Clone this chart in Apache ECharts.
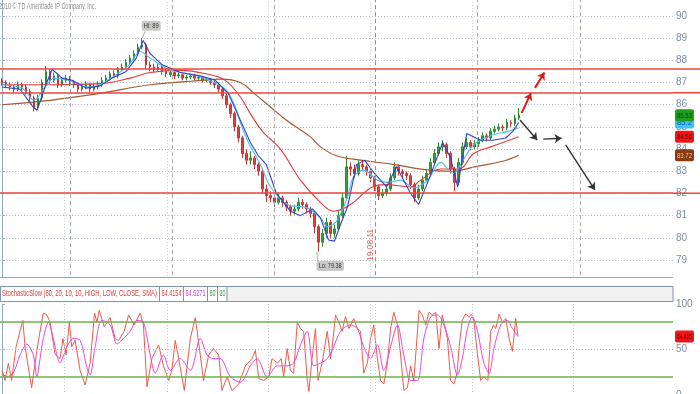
<!DOCTYPE html>
<html><head><meta charset="utf-8">
<script src="https://cdn.jsdelivr.net/npm/echarts@6/dist/echarts.min.js"></script>
<style>html,body{margin:0;padding:0;background:#fff}#c{width:700px;height:394px}</style>
</head><body><div id="c"></div>
<script>
// ---------- DATA ----------
const SLOTS = 168; // time slots on the x axis (data + future space)
// [open, close, low, high]
const candles = [
[87.1,87.0,86.85,87.2],[87.0,86.9,86.75,87.1],[86.9,86.8,86.65,87.0],[86.8,86.7,86.55,86.9],
[86.7,86.9,86.6,87.05],[86.9,86.8,86.65,87.0],[86.8,86.6,86.45,86.9],[86.6,86.3,86.15,86.7],
[86.3,85.9,85.7,86.4],[85.9,86.3,85.8,86.45],[86.3,87.0,86.2,87.15],[87.0,87.5,86.9,87.75],
[87.5,87.1,86.95,87.6],[87.1,87.3,87.0,87.45],[87.3,86.9,86.75,87.4],[86.9,87.1,86.8,87.25],
[87.1,87.2,87.0,87.35],[87.2,87.0,86.85,87.3],[87.0,86.9,86.75,87.1],[86.9,86.7,86.55,87.0],
[86.7,86.8,86.6,86.95],[86.8,86.9,86.7,87.05],[86.9,86.7,86.55,87.0],[86.7,86.8,86.6,86.95],
[86.8,86.9,86.7,87.05],[86.9,87.1,86.8,87.25],[87.1,87.2,87.0,87.35],[87.2,87.4,87.1,87.5],
[87.4,87.3,87.2,87.55],[87.3,87.6,87.2,87.7],[87.6,87.7,87.5,87.85],[87.7,87.9,87.6,88.05],
[87.9,88.1,87.8,88.25],[88.1,88.3,88.0,88.45],[88.3,88.6,88.2,88.75],[88.6,88.7,88.5,89.0],
[88.7,87.8,87.6,88.8],[87.8,87.7,87.5,87.95],[87.7,87.6,87.45,87.85],[87.6,87.7,87.5,87.85],
[87.7,87.5,87.35,87.8],[87.5,87.4,87.25,87.6],[87.35,87.45,87.25,87.55],[87.45,87.3,87.15,87.5],
[87.3,87.35,87.2,87.45],[87.35,87.2,87.1,87.4],[87.2,87.25,87.1,87.35],[87.25,87.3,87.15,87.4],
[87.3,87.2,87.1,87.4],[87.2,87.25,87.1,87.35],[87.25,87.1,87.0,87.3],[87.1,87.15,87.0,87.25],
[87.15,87.0,86.9,87.2],[87.0,86.9,86.75,87.1],[86.9,86.7,86.55,87.0],[86.7,86.4,86.25,86.8],
[86.4,86.0,85.85,86.5],[86.0,85.6,85.4,86.1],[85.6,85.0,84.8,85.7],[85.0,84.5,84.3,85.1],
[84.5,83.8,83.6,84.6],[83.8,83.5,83.3,84.0],[83.5,83.6,83.3,83.9],[83.6,83.3,83.1,83.7],
[83.3,83.0,82.8,83.4],[83.0,82.2,82.0,83.1],[82.2,81.9,81.6,82.4],[81.9,81.8,81.6,82.1],
[81.8,81.6,81.4,81.9],[81.6,81.8,81.5,82.0],[81.8,81.6,81.4,81.9],[81.6,81.4,81.2,81.7],
[81.4,81.2,81.0,81.5],[81.2,81.3,81.05,81.5],[81.3,81.6,81.2,81.8],[81.6,81.5,81.3,81.75],
[81.5,81.3,81.1,81.6],[81.3,81.1,80.9,81.4],[81.1,80.5,80.2,81.2],[80.5,79.8,79.38,80.6],
[79.8,80.2,79.6,80.4],[80.2,80.7,80.0,80.9],[80.7,80.2,80.0,80.8],[80.2,80.4,80.0,80.6],
[80.4,81.0,80.3,81.2],[81.0,81.8,80.9,82.0],[81.8,83.2,81.7,83.7],[83.2,83.1,82.8,83.4],
[83.1,82.9,82.7,83.3],[82.9,83.3,82.8,83.5],[83.3,83.2,83.0,83.5],[83.2,83.0,82.8,83.3],
[83.0,82.7,82.5,83.1],[82.7,82.3,82.1,82.8],[82.3,81.9,81.7,82.4],[81.9,82.0,81.8,82.2],
[82.0,82.2,81.9,82.4],[82.2,82.7,82.1,82.9],[82.7,83.2,82.6,83.4],[83.2,83.0,82.8,83.3],
[83.0,82.9,82.7,83.1],[82.9,82.8,82.6,83.0],[82.8,82.4,82.2,82.9],[82.4,81.8,81.6,82.5],
[81.8,82.2,81.7,82.4],[82.2,82.6,82.1,82.8],[82.6,82.9,82.5,83.1],[82.9,83.4,82.8,83.6],
[83.4,83.8,83.3,84.0],[83.8,84.1,83.7,84.3],[84.1,84.2,83.9,84.4],[84.2,83.8,83.6,84.3],
[83.8,83.1,82.9,83.9],[83.1,82.5,82.1,83.2],[82.5,83.4,82.4,83.6],[83.4,84.1,83.3,84.3],
[84.1,84.3,84.0,84.5],[84.3,84.1,83.95,84.4],[84.1,84.25,84.0,84.4],[84.25,84.4,84.1,84.55],
[84.4,84.6,84.3,84.75],[84.6,84.5,84.35,84.7],[84.5,84.8,84.4,84.95],[84.8,84.9,84.7,85.05],
[84.9,85.0,84.8,85.15],[85.0,84.95,84.8,85.1],[84.95,85.2,84.85,85.35],[85.2,85.15,85.0,85.3],
[85.15,85.4,85.05,85.55],[85.4,85.53,85.3,85.85]
];
// moving averages: [slot, value]
const blueMA = [[0,86.8],[4.5,86.7],[7.75,85.9],[8.75,85.75],[10.75,86.8],[12.5,87.6],[15,87.2],[17.5,87.1],[21,86.75],[24.5,86.85],[27.5,87.2],[31,87.5],[33.5,88.1],[35.25,88.9],[37,88.3],[40,87.8],[44.5,87.45],[49.5,87.3],[53.25,87.1],[56.5,86.5],[59.5,85.3],[62,84.3],[64,83.7],[66,83.3],[68.5,82.0],[72,81.2],[74.5,81.0],[77.5,81.3],[79.5,80.9],[81.5,79.9],[83,79.85],[84.5,80.6],[86.25,81.4],[88.5,83.3],[90.5,83.5],[93,82.9],[96,82.3],[98.5,83.2],[102,82.0],[104,81.5],[106.5,82.6],[110,84.3],[112,83.6],[113.75,82.3],[116,84.7],[119.5,84.4],[122.5,84.4],[125.75,84.5],[127.5,84.8],[129,85.2]];
const cyanMA = [[0,86.9],[5,86.75],[8,86.2],[10.75,86.8],[13,87.2],[17.5,87.05],[21,86.8],[24.5,86.9],[28,87.3],[31.5,87.75],[34.5,88.4],[37,88.1],[41.5,87.6],[49.5,87.25],[55.75,86.7],[58.25,85.9],[59.5,85.2],[61.5,84.3],[64.5,83.3],[67,82.3],[71.25,81.5],[76.25,81.35],[79.5,80.9],[81.25,80.5],[83.75,80.8],[86.25,81.85],[87.75,82.75],[90.25,83.05],[93.75,82.6],[96.25,82.5],[99.5,82.6],[102.75,82.25],[106.25,82.6],[109.5,83.4],[112.75,82.9],[113.75,83.1],[117.75,84.2],[122,84.6],[126.25,84.8],[129,84.95]];
const redMA = [[0,86.9],[12,86.9],[24.5,86.95],[32,87.2],[37,87.45],[44.5,87.55],[52,87.35],[55.75,87.1],[59.5,86.35],[62,85.6],[65,84.8],[69.5,84.0],[74.5,82.6],[79.5,81.6],[82.75,81.2],[87,81.5],[92,82.25],[95.75,82.4],[102,82.3],[104.5,82.6],[109.5,83.1],[114,83.1],[117.75,83.8],[122,84.1],[129,84.56]];
const brownMA = [[0,86.0],[12,86.2],[24,86.5],[37,86.9],[50,87.1],[54.5,87.15],[59.5,87.0],[63,86.5],[67,85.9],[71,85.3],[77,84.55],[79.5,84.1],[83.5,83.7],[89.5,83.5],[98,83.3],[104.5,83.1],[112.5,83.0],[118,83.2],[125,83.45],[129,83.72]];
// stochastic slow: [slot, value]
const stochK = [[0,27],[0.75,16],[1.6,35],[2.4,16],[3.5,53],[5.2,82],[5.75,53],[7.4,8],[8.25,35],[9.1,60],[10.3,90],[11.2,88],[12,80],[13.25,45],[14.5,40],[15.2,62],[16,44],[16.8,80],[17.4,53],[18.25,60],[19.5,27],[20.75,11],[22,35],[23.1,90],[23.7,80],[24.25,93],[25.5,75],[27,85],[28.25,62],[29.1,60],[30.5,70],[31.6,88],[33,77],[34.5,90],[35.3,77],[36.2,9],[37.4,40],[39.1,55],[40.3,32],[41.6,16],[42.4,27],[43.25,60],[44.1,40],[45.5,5],[47,62],[48.25,85],[49.5,44],[50.3,16],[51.6,44],[52.8,51],[54.1,44],[54.9,5],[56.2,20],[57.4,5],[59.1,12],[60.75,32],[62.4,40],[63.25,49],[64.1,18],[65.3,16],[66.6,20],[67.4,40],[68.8,35],[69.7,40],[70.3,20],[71.2,51],[72,27],[72.8,24],[73.7,80],[74.5,73],[75.3,70],[76.2,16],[76.6,4],[77.4,40],[78.25,73],[78.9,16],[79.9,35],[81.2,70],[82,40],[82.4,51],[83.25,88],[84.1,80],[84.9,70],[85.75,86],[86.6,73],[87.8,84],[88.7,73],[89.5,70],[90.3,24],[91.2,35],[92,62],[92.8,77],[93.7,40],[94.5,16],[95.3,12],[96.2,35],[97,73],[97.8,91],[98.7,77],[99.5,44],[100.3,5],[101.2,8],[102,32],[102.8,16],[104.1,93],[104.9,88],[105.75,77],[106.6,91],[107.4,88],[108.25,91],[109.1,51],[109.9,88],[111.2,62],[112,16],[112.8,12],[113.6,24],[114.1,53],[114.9,82],[115.75,89],[116.6,86],[117.2,89],[117.8,82],[118.7,44],[119.5,16],[120.2,20],[120.75,18],[121.3,16],[122,70],[122.7,77],[123.25,73],[124.1,89],[124.9,80],[125.75,84],[126.6,62],[127.4,48],[128.25,84],[128.8,64.4154]];
const stochD = [[0,24],[1.2,20],[2.8,24],[4.5,44],[6.2,56],[7.8,44],[8.7,20],[9.5,40],[10.3,62],[11.6,80],[12.8,62],[14.5,35],[16.2,53],[17.8,62],[19.5,60],[21.2,30],[22,22],[23.25,53],[24.9,82],[27,77],[28.7,56],[30.3,62],[32,70],[33.7,82],[35.3,80],[37,44],[38.25,24],[40.3,44],[42,27],[44.5,40],[47,27],[49.5,62],[51.2,44],[52.8,40],[54.5,40],[57,20],[59.5,14],[62,32],[63.7,40],[66.2,20],[68.7,32],[71.2,32],[72.8,35],[74.5,55],[76.2,70],[77.8,32],[79.5,35],[81.2,40],[82.8,53],[84.5,70],[87,77],[88.7,73],[90.3,53],[92,40],[93.7,55],[95.3,27],[97,53],[98.7,77],[100.3,44],[102,16],[103.7,16],[105.3,62],[107,86],[108.7,88],[110.3,77],[112,53],[113.7,22],[114.9,40],[116.2,73],[117.4,86],[118.7,70],[120.3,35],[121.6,24],[122.8,51],[124.5,77],[126.2,82],[127.4,73],[128.8,64.6271]];
const stochParams = 'StochasticSlow (80, 20, 10, 10, HIGH, LOW, CLOSE, SMA)';
const stochLevels = [80, 20];
// support / resistance levels
const levels = [87.61, 86.54, 82.01];
// period separators (slot positions)
const gridDotted = [15.6, 41.2, 66.5, 91.9, 117.3, 142.7];
const gridDashed = [17.0, 42.4, 67.9, 118.6, 144.3];
const dateLine = 93.1, dateLabel = '19.08.11';
const hiPoint = [35, 89.0], loPoint = [79, 79.38];
// scenario arrows [[slot,value],[slot,value]]
const arrowsRed = [[[129.7,85.62],[132.05,86.52]], [[133.05,86.76],[135.4,87.45]]];
const arrowsBlack = [[[129.3,85.31],[133.6,84.41]], [[135.1,84.45],[139.7,84.49]], [[140.7,84.19],[148.0,82.16]]];
const copyright = '2010 \u00a9 TD Ameritrade IP Company, Inc.';

// ---------- CHART ----------
const slots = Array.from({length: SLOTS}, (_, i) => String(i));
const last = a => a[a.length - 1][1];
const AX = '#8ea7c2';
const chart = echarts.init(document.getElementById('c'), null, {renderer: 'canvas'});

function vLines(xi, yi, list, style) {
  return {type: 'line', xAxisIndex: xi, yAxisIndex: yi, data: [], silent: true, z: 1,
    markLine: {silent: true, symbol: ['none', 'none'], label: {show: false}, animation: false,
      lineStyle: style, data: list.map(v => ({xAxis: v}))}};
}
function hLines(xi, yi, list, style, z) {
  return {type: 'line', xAxisIndex: xi, yAxisIndex: yi, data: [], silent: true, z: z || 1,
    markLine: {silent: true, symbol: ['none', 'none'], label: {show: false}, animation: false,
      lineStyle: style, data: list.map(v => ({yAxis: v}))}};
}
function arrows(list, color, width) {
  return {type: 'line', xAxisIndex: 1, yAxisIndex: 0, data: [], silent: true, z: 6,
    markLine: {silent: true, symbol: ['none', 'arrow'], symbolSize: 7, label: {show: false}, animation: false,
      lineStyle: {color, width, type: 'solid'},
      data: list.map(a => [{coord: a[0]}, {coord: a[1]}])}};
}
function maLine(data, color, width, smooth, z) {
  return {type: 'line', xAxisIndex: 1, yAxisIndex: 0, data, showSymbol: false, smooth,
    lineStyle: {color, width}, z: z || 3, silent: true};
}

const option = {
  animation: false,
  backgroundColor: '#fff',
  grid: [
    {left: 0, width: 673, top: -6.18, height: 288.36, outerBoundsMode: 'none', containLabel: false},
    {left: 0, width: 673, top: 304, height: 91, outerBoundsMode: 'none', containLabel: false}
  ],
  xAxis: [
    {type: 'category', gridIndex: 0, data: slots, boundaryGap: true, show: false},
    {type: 'value', gridIndex: 0, min: -0.5, max: SLOTS - 0.5, show: false},
    {type: 'value', gridIndex: 1, min: -0.5, max: SLOTS - 0.5, show: false}
  ],
  yAxis: [
    {type: 'value', gridIndex: 0, position: 'right', min: 78, max: 91, interval: 1,
      axisLine: {show: true, lineStyle: {color: AX}},
      axisTick: {show: true, length: 3, lineStyle: {color: AX}},
      axisLabel: {color: '#7d8fa3', fontSize: 10, margin: 3, fontFamily: 'Liberation Sans',
        showMinLabel: false, showMaxLabel: false},
      splitLine: {show: true, lineStyle: {color: '#b2bfcc', type: [1, 2], width: 1}}},
    {type: 'value', gridIndex: 1, position: 'right', min: 0, max: 100, interval: 50,
      axisLine: {show: true, lineStyle: {color: AX}},
      axisTick: {show: true, length: 3, lineStyle: {color: AX}},
      axisLabel: {color: '#7d8fa3', fontSize: 10, margin: 3, fontFamily: 'Liberation Sans'},
      splitLine: {show: false}}
  ],
  series: [
    vLines(1, 0, gridDotted, {color: '#c3ccd6', type: [1, 2], width: 1}),
    vLines(1, 0, gridDashed, {color: '#a9a9a9', type: [4, 3], width: 1}),
    vLines(1, 0, [dateLine], {color: '#e46a6a', type: [4, 3], width: 1}),
    vLines(2, 1, gridDotted.concat([dateLine]), {color: '#c3ccd6', type: [1, 2], width: 1}),
    hLines(2, 1, [50], {color: '#b2bfcc', type: [1, 2], width: 1}),
    hLines(2, 1, stochLevels, {color: '#6cb24e', type: 'solid', width: 1.5}, 2),
    {type: 'candlestick', xAxisIndex: 0, yAxisIndex: 0, data: candles, barWidth: 2, z: 2, silent: true,
      itemStyle: {color: '#3c9f3c', color0: '#e24444', borderColor: '#2f8a2f', borderColor0: '#c83434', borderWidth: 1}},
    maLine(brownMA, '#a5582e', 1.2, 0.4),
    maLine(redMA, '#e23b3b', 1.1, 0.4),
    maLine(cyanMA, '#4cc0ef', 1.1, 0.3),
    maLine(blueMA, '#3040cc', 1.1, false, 4),
    hLines(1, 0, levels, {color: '#e8463c', type: 'solid', width: 1.5}, 5),
    arrows(arrowsRed, '#e01818', 2),
    arrows(arrowsBlack, '#333333', 1.4),
    {type: 'line', xAxisIndex: 2, yAxisIndex: 1, data: stochK, showSymbol: false, smooth: false,
      lineStyle: {color: '#f05a4a', width: 1}, z: 3, silent: true},
    {type: 'line', xAxisIndex: 2, yAxisIndex: 1, data: stochD, showSymbol: false, smooth: 0.3,
      lineStyle: {color: '#ea44e6', width: 1}, z: 4, silent: true}
  ]
};
chart.setOption(option);

// ---------- annotations (positioned through the chart's scales) ----------
const FONT = 'Liberation Sans';
const mctx = document.createElement('canvas').getContext('2d');
function fit(str, size, w) { mctx.font = size + 'px ' + FONT; return w / mctx.measureText(str).width; }
function txt(str, x, y, size, w, fill, align, extra) {
  return Object.assign({type: 'text', x, y, scaleX: fit(str, size, w), z: 130, silent: true,
    style: {text: str, fontSize: size, fontFamily: FONT, fill, align: align || 'left', verticalAlign: 'middle'}}, extra || {});
}
const yMain = v => chart.convertToPixel({yAxisIndex: 0}, v);
const yLow = v => chart.convertToPixel({yAxisIndex: 1}, v);
const pMain = p => chart.convertToPixel({xAxisIndex: 1, yAxisIndex: 0}, p);
const xMain = s => chart.convertToPixel({xAxisIndex: 1}, s);

function tag(label, y, bg, fg, z) {
  const w = 19, h = 12;
  return [
    {type: 'rect', shape: {x: 675, y: y - h / 2, width: w, height: h, r: 2}, style: {fill: bg}, z, silent: true},
    txt(label, 675 + w / 2, y + 0.5, 8, w - 4, fg, 'center', {z: z + 1})
  ];
}

const g = [];
// gap between panels + panel borders
g.push({type: 'rect', shape: {x: 0, y: 278, width: 700, height: 8}, style: {fill: '#fff'}, z: 100, silent: true});
g.push({type: 'line', shape: {x1: 0, y1: 277.5, x2: 673, y2: 277.5}, style: {stroke: AX, lineWidth: 1}, z: 101, silent: true});
// level lines continue over the price scale
levels.forEach(v => {
  const y = yMain(v);
  g.push({type: 'line', shape: {x1: 673, y1: y, x2: 700, y2: y}, style: {stroke: '#e8463c', lineWidth: 1.5}, z: 101, silent: true});
});
// header of the stochastic panel
g.push({type: 'rect', shape: {x: 0.5, y: 286.5, width: 672.5, height: 15}, style: {fill: '#f1f1f1', stroke: '#7f95ad', lineWidth: 1}, z: 101, silent: true});
g.push({type: 'rect', shape: {x: 0.5, y: 286.5, width: 226.5, height: 15}, style: {fill: '#ffffff', stroke: '#7f95ad', lineWidth: 1}, z: 102, silent: true});
[159.5, 183.5, 207.5, 217.5].forEach(x => g.push({type: 'line', shape: {x1: x, y1: 286.5, x2: x, y2: 301.5}, style: {stroke: '#7f95ad', lineWidth: 1}, z: 103, silent: true}));
g.push(txt(stochParams, 2, 294, 9, 155, '#e03a3a'));
g.push(txt(String(last(stochK)), 161.5, 294, 9, 20, '#e03a3a'));
g.push(txt(String(last(stochD)), 185.5, 294, 9, 20, '#d23ed2'));
g.push(txt(String(stochLevels[0]), 209.5, 294, 9, 6, '#3f9a3f'));
g.push(txt(String(stochLevels[1]), 219.5, 294, 9, 6, '#3f9a3f'));
// copyright
g.push(txt(copyright, -1, 7, 9, 97, '#8f8f8f'));
// Hi / Lo labels
const hp = pMain(hiPoint);
g.push({type: 'line', shape: {x1: hp[0] + 3, y1: hp[1] - 7, x2: hp[0], y2: hp[1]}, style: {stroke: '#9a9a9a', lineWidth: 0.8}, z: 120, silent: true});
g.push({type: 'rect', shape: {x: hp[0] - 0.5, y: hp[1] - 17.5, width: 19, height: 10, r: 2}, style: {fill: '#c8c8c8'}, z: 121, silent: true});
g.push(txt('Hi: ' + hiPoint[1], hp[0] + 9, hp[1] - 12.3, 8, 15, '#333', 'center'));
const lp = pMain(loPoint);
g.push({type: 'line', shape: {x1: lp[0] - 1.5, y1: lp[1], x2: lp[0] - 1, y2: lp[1] + 10}, style: {stroke: '#9a9a9a', lineWidth: 0.8}, z: 120, silent: true});
g.push({type: 'rect', shape: {x: lp[0] - 2, y: lp[1] + 9.5, width: 27.5, height: 10, r: 2}, style: {fill: '#c8c8c8'}, z: 121, silent: true});
g.push(txt('Lo: ' + loPoint[1], lp[0] + 11.7, lp[1] + 14.7, 8, 23, '#333', 'center'));
// date label along the red dashed line
g.push(txt(dateLabel, xMain(dateLine) - 4, yMain(79.68), 9, 32, '#e05a5a', 'center', {rotation: Math.PI / 2}));
// last-value tags on the price scale
g.push(...tag(String(last(blueMA)), yMain(last(blueMA)), '#38c6f2', '#1a55a8', 110));
g.push(...tag(String(candles[candles.length - 1][1]), yMain(candles[candles.length - 1][1]), '#1f9d22', '#0b3a0b', 112));
g.push(...tag(String(last(redMA)), yMain(last(redMA)), '#f01414', '#5a0000', 112));
g.push(...tag(String(last(brownMA)), yMain(last(brownMA)), '#8a3b10', '#e6c7a8', 112));
g.push(...tag(last(stochK).toFixed(3), yLow(last(stochK)), '#f01414', '#5a0000', 112));

chart.setOption({graphic: g});
</script>
</body></html>
